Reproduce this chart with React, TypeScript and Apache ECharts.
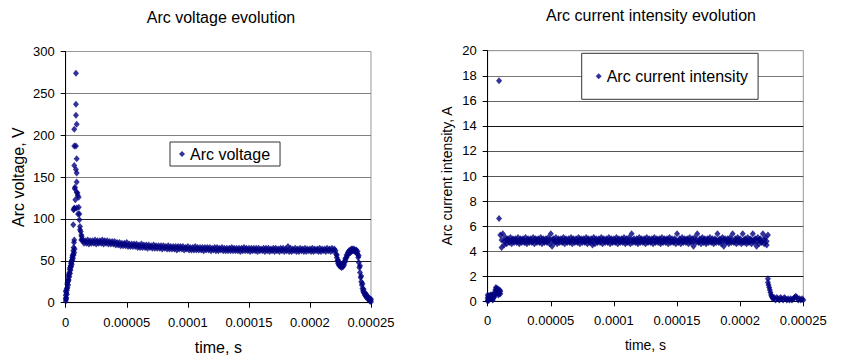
import React, { useEffect, useRef } from "react";
import * as echarts from "echarts";

// ---------- shared axis data ----------
const US = 1e-6; // times below are stored in microseconds
const xTickStep = 0.00005;
const xMax = 0.00025;
const xTickLabels = ["0", "0.00005", "0.0001", "0.00015", "0.0002", "0.00025"];

// ---------- Arc voltage (V) ----------
const vRiseTimes = [0, 0, 0, 0, 0.3, 0.5, 0.8, 1.0, 1.2, 1.5, 1.8, 2.0, 2.3, 2.6, 3.0, 3.3, 3.6, 4.0, 4.3, 4.6, 5.0, 5.3, 5.6, 6.0, 6.2, 6.5, 6.8, 7.0,
  0.5, 1.0, 1.5, 2.0, 2.5, 3.0, 3.5, 4.0, 4.5, 5.0, 5.5, 6.0, 6.5, 7.0, 7.3];
const vRiseValues = [2, 5, 9, 14, 4, 12, 17, 15, 22, 24, 28, 26, 32, 34, 36, 40, 42, 44, 47, 49, 51, 54, 56, 58, 62, 66, 72, 75,
  6, 10, 18, 21, 27, 31, 35, 39, 43, 46, 50, 53, 57, 60, 64];

const vSpikeTimes = [6.2, 6.4, 7.0, 8.4, 8.4, 8.4, 9.0, 7.0, 8.4, 7.0, 9.0, 7.0, 8.4, 9.0, 9.0, 7.4, 7.6, 9.6, 9.0, 9.8, 7.9, 10.6, 7.0, 9.0, 10.7, 10.1, 11.2, 11.2, 11.7, 11.7, 12.3, 12.8, 12.8, 13.1, 13.5];
const vSpikeValues = [93, 111, 113, 274, 237, 224, 213, 207, 187, 187, 172, 164, 159, 155, 144, 136, 138, 131, 132, 128, 123, 126, 112, 113, 114, 106, 106, 99, 91, 87, 85, 81, 75, 79, 76];

// plateau: upper samples at even µs, lower samples at odd µs
const vUpperStartUs = 14;
const vUpperStepUs = 2;
const vUpperValues = [
  74, 74, 75, 74, 74, 75, 74, 74, 75, 74,
  74, 73, 73, 73, 72, 72, 71, 71, 72, 70,
  70, 70, 70, 69, 70, 69, 69, 69, 68, 69,
  68, 68, 68, 68, 67, 68, 67, 67, 67, 67,
  67, 67, 66, 67, 66, 66, 67, 66, 66, 66,
  66, 66, 66, 65, 66, 66, 65, 66, 65, 65,
  65, 66, 65, 65, 65, 65, 66, 65, 65, 65,
  65, 65, 65, 64, 65, 65, 65, 64, 65, 65,
  64, 65, 65, 64, 67, 65, 64, 65, 64, 65,
  64, 65, 64, 64, 65, 64, 64, 65, 64, 64,
  65, 64, 65, 64,
];
const vLowerStartUs = 15;
const vLowerStepUs = 2;
const vLowerValues = [
  71, 71, 70, 71, 71, 70, 71, 71, 70, 71,
  70, 70, 70, 69, 69, 68, 68, 68, 67, 67,
  67, 67, 66, 66, 66, 66, 65, 66, 65, 65,
  65, 65, 64, 65, 64, 64, 64, 64, 63, 64,
  64, 63, 64, 63, 63, 63, 63, 63, 63, 62,
  63, 63, 62, 63, 62, 62, 63, 62, 62, 62,
  62, 62, 62, 62, 61, 62, 62, 62, 61, 62,
  62, 61, 62, 62, 61, 62, 61, 62, 61, 62,
  61, 62, 61, 62, 61, 61, 62, 61, 61, 62,
  61, 61, 62, 61, 61, 62, 61, 61, 62, 61,
  62, 61, 62,
];

const vEndTimes = [221, 221.5, 222, 222.5, 223, 223.5, 224, 225, 226, 227, 228, 228.5, 229, 230, 231, 232, 233, 234, 235, 236, 237, 238, 239, 239.5, 240, 240.5, 241, 241.5, 242, 242.5, 243, 243.5, 244, 245, 246, 247, 248, 249, 250, 249.5, 248.5,
  222, 223, 224, 225, 226, 227, 228, 229, 230, 231, 232, 233, 234, 235, 236, 237, 238, 239, 240, 241, 242, 243, 244, 245, 246, 247, 248, 249, 250];
const vEndValues = [62, 58, 54, 50, 47, 46, 44, 43, 42, 43, 45, 48, 51, 54, 57, 59, 60, 61, 62, 62, 61, 60, 58, 54, 48, 42, 36, 30, 25, 21, 17, 14, 12, 9, 7, 5, 4, 2, 1, 3, 4,
  57, 51, 48, 46, 45, 46, 49, 53, 57, 60, 62, 63, 64, 64, 64, 63, 63, 61, 56, 44, 32, 23, 16, 12, 10, 8, 6, 5, 4];

// ---------- Arc current intensity (A) ----------
const iRiseTimes = [0, 0, 0, 0.5, 1, 1.5, 2, 2.5, 3, 3.5, 4, 4.5, 5, 5.5, 6, 6.5, 7, 7.5, 8, 8.5, 9, 9.5, 10,
  0, 1, 2, 3, 4, 5, 6, 7, 8, 9, 10];
const iRiseValues = [0.1, 0.3, 0.5, 0.2, 0.1, 0.3, 0.2, 0.4, 0.2, 0.3, 0.1, 0.3, 0.5, 0.7, 0.9, 1.1, 1.0, 0.8, 0.7, 0.5, 0.8, 0.9, 0.8,
  0.0, 0.4, 0.5, 0.5, 0.5, 0.3, 0.6, 0.6, 1.0, 0.6, 0.6];

const iSpikeTimes = [9.0, 9.0];
const iSpikeValues = [17.6, 6.6];

// plateau: upper samples at even µs, lower and middle samples at odd µs
const iUpperStartUs = 10;
const iUpperStepUs = 2;
const iUpperValues = [
  5.3, 5.4, 5.1, 5.0, 5.1, 5.0, 5.0, 5.1, 5.0, 5.0,
  5.1, 5.0, 5.0, 5.1, 5.0, 5.0, 5.1, 5.0, 5.0, 5.1,
  5.4, 5.0, 5.1, 5.0, 5.0, 5.1, 5.0, 5.0, 5.1, 5.0,
  5.0, 5.1, 5.0, 5.0, 5.1, 5.0, 5.0, 5.1, 5.0, 5.0,
  5.1, 5.0, 5.0, 5.1, 5.0, 5.0, 5.1, 5.0, 5.0, 5.1,
  5.0, 5.1, 5.4, 5.0, 5.0, 5.1, 5.0, 5.0, 5.1, 5.0,
  5.0, 5.1, 5.0, 5.0, 5.1, 5.0, 5.0, 5.1, 5.0, 5.0,
  5.4, 5.0, 5.1, 5.0, 5.0, 5.1, 5.0, 5.1, 5.4, 5.0,
  5.1, 5.0, 5.0, 5.1, 5.0, 5.0, 5.4, 5.0, 5.1, 5.0,
  5.0, 5.1, 5.4, 5.0, 5.1, 5.0, 5.4, 5.0, 5.1, 5.0,
  5.4, 5.0, 5.1, 5.0, 5.4, 5.1, 5.3,
];
const iLowerStartUs = 11;
const iLowerStepUs = 2;
const iLowerValues = [
  4.3, 4.5, 4.6, 4.7, 4.6, 4.7, 4.7, 4.6, 4.7, 4.7,
  4.6, 4.7, 4.7, 4.6, 4.7, 4.7, 4.6, 4.7, 4.7, 4.6,
  4.4, 4.7, 4.6, 4.7, 4.7, 4.6, 4.7, 4.7, 4.6, 4.7,
  4.7, 4.6, 4.7, 4.7, 4.6, 4.7, 4.5, 4.6, 4.7, 4.7,
  4.6, 4.7, 4.7, 4.6, 4.7, 4.7, 4.6, 4.7, 4.7, 4.6,
  4.7, 4.6, 4.7, 4.7, 4.6, 4.7, 4.7, 4.6, 4.7, 4.7,
  4.6, 4.7, 4.7, 4.6, 4.7, 4.7, 4.6, 4.7, 4.7, 4.6,
  4.7, 4.6, 4.7, 4.7, 4.6, 4.7, 4.4, 4.7, 4.7, 4.6,
  4.7, 4.6, 4.7, 4.7, 4.6, 4.7, 4.7, 4.6, 4.4, 4.7,
  4.6, 4.7, 4.7, 4.6, 4.7, 4.6, 4.7, 4.6, 4.7, 4.6,
  4.7, 4.4, 4.6, 4.7, 4.6, 4.5,
];
const iMidStartUs = 11;
const iMidStepUs = 2;
const iMidValues = [
  4.9, 4.8, 4.9, 4.8, 4.8, 4.9, 4.8, 4.8, 4.9, 4.8,
  4.8, 4.9, 4.8, 4.9, 4.9, 4.8, 4.9, 4.8, 4.8, 4.9,
  4.9, 4.8, 4.8, 4.9, 4.8, 4.9, 4.8, 4.8, 4.9, 4.8,
  4.8, 4.9, 4.9, 4.8, 4.9, 4.8, 4.8, 4.9, 4.8, 4.9,
  4.9, 4.8, 4.8, 4.9, 4.8, 4.8, 4.9, 4.8, 4.9, 4.8,
  4.8, 4.9, 4.9, 4.8, 4.8, 4.9, 4.8, 4.9, 4.8, 4.8,
  4.9, 4.8, 4.9, 4.8, 4.8, 4.9, 4.9, 4.8, 4.8, 4.9,
  4.8, 4.9, 4.8, 4.9, 4.9, 4.8, 4.8, 4.9, 4.8, 4.9,
  4.9, 4.8, 4.9, 4.8, 4.8, 4.9, 4.9, 4.8, 4.9, 4.8,
  4.8, 4.9, 4.8, 4.9, 4.9, 4.8, 4.9, 4.8, 4.8, 4.9,
  4.9, 4.8, 4.9, 4.8, 4.9, 4.8,
];

const iEndTimes = [222, 222, 222.5, 223, 223.5, 224, 224.5, 225, 225.5, 226, 227, 228, 229, 230, 231, 232, 233, 234, 235, 236, 237, 238, 239, 240, 241, 242, 243, 244, 245, 246, 247, 248, 249, 250];
const iEndValues = [1.8, 1.5, 1.3, 1.1, 0.9, 0.7, 0.5, 0.4, 0.3, 0.2, 0.3, 0.1, 0.3, 0.2, 0.1, 0.3, 0.2, 0.1, 0.3, 0.2, 0.1, 0.2, 0.1, 0.2, 0.1, 0.2, 0.3, 0.4, 0.3, 0.1, 0.2, 0.1, 0.2, 0.1];

// ---------- helpers ----------
const pairs = (times: number[], values: number[]) => times.map((t, k) => [t * US, values[k]]);
const sampled = (startUs: number, stepUs: number, values: number[]) =>
  values.map((v, k) => [(startUs + k * stepUs) * US, v]);

const FONT = "'Liberation Sans', Arial, Helvetica, sans-serif";
const NAVY = "#000080";

const voltageData = [
  ...pairs(vRiseTimes, vRiseValues),
  ...pairs(vSpikeTimes, vSpikeValues),
  ...sampled(vUpperStartUs, vUpperStepUs, vUpperValues),
  ...sampled(vLowerStartUs, vLowerStepUs, vLowerValues),
  ...pairs(vEndTimes, vEndValues),
];
const currentData = [
  ...pairs(iRiseTimes, iRiseValues),
  ...pairs(iSpikeTimes, iSpikeValues),
  ...sampled(iUpperStartUs, iUpperStepUs, iUpperValues),
  ...sampled(iLowerStartUs, iLowerStepUs, iLowerValues),
  ...sampled(iMidStartUs, iMidStepUs, iMidValues),
  ...pairs(iEndTimes, iEndValues),
];

function xAxisFor(gridIndex: number, nameSize: number, nameGap: number, labelMargin: number) {
  return {
    type: "value",
    gridIndex,
    min: 0,
    max: xMax,
    interval: xTickStep,
    axisLine: { show: true, onZero: false, lineStyle: { color: "#000", width: 1 } },
    axisTick: { show: true, length: 5, lineStyle: { color: "#000" } },
    axisLabel: {
      formatter: (v: number) => xTickLabels[Math.round(v / xTickStep)] ?? "",
      fontSize: 13,
      color: "#000",
      fontFamily: FONT,
      margin: labelMargin,
    },
    splitLine: { show: false },
    name: "time, s",
    nameLocation: "middle",
    nameGap,
    nameTextStyle: { fontSize: nameSize, color: "#000", fontFamily: FONT },
  };
}

export default function App() {
  const ref = useRef<HTMLDivElement>(null);
  useEffect(() => {
    if (!ref.current) return;
    const chart = echarts.init(ref.current, undefined, { renderer: "svg" });
    chart.setOption({
      animation: false,
      backgroundColor: "#fff",
      textStyle: { fontFamily: FONT },
      graphic: [
        {
          type: "text",
          x: 221,
          y: 17,
          style: { text: "Arc voltage evolution", font: `16px ${FONT}`, fill: "#000", align: "center", verticalAlign: "middle" },
        },
        {
          type: "text",
          x: 651,
          y: 15.5,
          style: { text: "Arc current intensity evolution", font: `16px ${FONT}`, fill: "#000", align: "center", verticalAlign: "middle" },
        },
      ],
      grid: [
        { left: 65.7, width: 305.3, top: 51.5, height: 251.2, show: true, borderColor: "#999", borderWidth: 1, backgroundColor: "transparent" },
        { left: 487.7, width: 315.6, top: 50.7, height: 250.6, show: true, borderColor: "#999", borderWidth: 1, backgroundColor: "transparent" },
      ],
      xAxis: [xAxisFor(0, 16, 37, 13), xAxisFor(1, 14, 37, 12.5)],
      yAxis: [
        {
          type: "value",
          gridIndex: 0,
          min: 0,
          max: 300,
          interval: 50,
          axisLine: { show: true, lineStyle: { color: "#000" } },
          axisTick: { show: true, length: 5, lineStyle: { color: "#000" } },
          axisLabel: { fontSize: 13, color: "#000", fontFamily: FONT, margin: 11 },
          splitLine: { show: true, lineStyle: { width: 1, color: ["#000", "#222", "#222", "#808080", "#808080", "#808080", "#999"] } },
          name: "Arc voltage, V",
          nameLocation: "middle",
          nameGap: 39,
          nameTextStyle: { fontSize: 16, color: "#000", fontFamily: FONT },
        },
        {
          type: "value",
          gridIndex: 1,
          min: 0,
          max: 20,
          interval: 2,
          axisLine: { show: true, lineStyle: { color: "#000" } },
          axisTick: { show: true, length: 5, lineStyle: { color: "#000" } },
          axisLabel: { fontSize: 13, color: "#000", fontFamily: FONT, margin: 11 },
          splitLine: {
            show: true,
            lineStyle: { width: 1, color: ["#000", "#111", "#666", "#555", "#555", "#555", "#555", "#111", "#666", "#777", "#999"] },
          },
          name: "Arc current intensity, A",
          nameLocation: "middle",
          nameGap: 34,
          nameTextStyle: { fontSize: 14, color: "#000", fontFamily: FONT },
        },
      ],
      legend: [
        {
          data: ["Arc voltage"],
          left: 170,
          top: 142,
          orient: "horizontal",
          icon: "diamond",
          itemWidth: 6,
          itemHeight: 6,
          padding: [4, 10, 4, 9],
          backgroundColor: "#fff",
          borderColor: "#333",
          borderWidth: 1,
          borderRadius: 0,
          textStyle: { fontSize: 16, color: "#000", fontFamily: FONT },
          selectedMode: false,
        },
        {
          data: ["Arc current intensity"],
          left: 581.7,
          top: 53.3,
          orient: "horizontal",
          icon: "diamond",
          itemWidth: 6,
          itemHeight: 6,
          padding: [15, 10, 15, 14],
          backgroundColor: "#fff",
          borderColor: "#333",
          borderWidth: 1,
          borderRadius: 0,
          textStyle: { fontSize: 16, color: "#000", fontFamily: FONT },
          selectedMode: false,
        },
      ],
      series: [
        {
          name: "Arc voltage",
          type: "scatter",
          xAxisIndex: 0,
          yAxisIndex: 0,
          symbol: "diamond",
          symbolSize: [6, 7],
          itemStyle: { color: NAVY },
          data: voltageData,
        },
        {
          name: "Arc current intensity",
          type: "scatter",
          xAxisIndex: 1,
          yAxisIndex: 1,
          symbol: "diamond",
          symbolSize: [6, 7],
          itemStyle: { color: NAVY },
          data: currentData,
        },
      ],
    });
    return () => chart.dispose();
  }, []);
  return (
    <div
      ref={ref}
      style={{ position: "fixed", left: 0, top: 0, width: 846, height: 362, background: "#fff" }}
    />
  );
}
